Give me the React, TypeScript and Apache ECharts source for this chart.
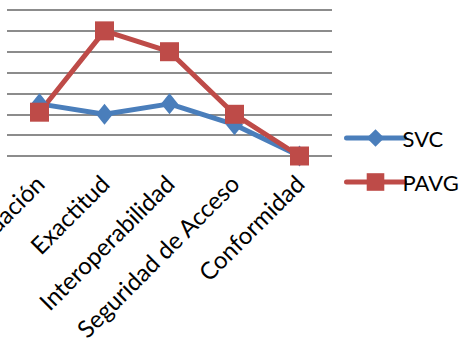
import React, { useEffect, useRef } from "react";
import * as echarts from "echarts";

const categories = ["Adecuación", "Exactitud", "Interoperabilidad", "Seguridad de Acceso", "Conformidad"];
const svcValues = [2.5, 2, 2.5, 1.5, 0];
const pavgValues = [2.1, 6, 5, 2, 0];

export default function App() {
  const ref = useRef<HTMLDivElement>(null);
  useEffect(() => {
    const chart = echarts.init(ref.current!, null, { renderer: "svg" });
    const font = "Lato, 'Open Sans', sans-serif";
    chart.setOption({
      animation: false,
      backgroundColor: "#ffffff",
      grid: { left: 7, right: 134, top: 10, bottom: 193, containLabel: false, outerBoundsMode: "none" },
      legend: {
        orient: "vertical",
        left: 339,
        top: 122,
        itemWidth: 58,
        itemHeight: 22,
        itemGap: 22,
        lineStyle: { width: 5, cap: "round" },
        textStyle: { fontFamily: font, fontSize: 22, color: "#000", padding: [0, 0, 0, -7] },
        data: ["SVC", "PAVG"],
      },
      xAxis: {
        type: "category",
        data: categories,
        boundaryGap: true,
        axisLine: { show: false },
        axisTick: { show: false },
        axisLabel: {
          rotate: 45,
          interval: 0,
          margin: 23,
          fontFamily: font,
          fontSize: 24,
          color: "#000",
        },
      },
      yAxis: {
        type: "value",
        min: 0,
        max: 7,
        interval: 1,
        axisLine: { show: false },
        axisTick: { show: false },
        axisLabel: { show: false },
        splitLine: { lineStyle: { color: "#8c8c8c", width: 2 } },
      },
      series: [
        {
          name: "SVC",
          type: "line",
          data: svcValues,
          symbol: "diamond",
          symbolSize: [17, 21],
          lineStyle: { color: "#4a7ebb", width: 5 },
          itemStyle: { color: "#4a7ebb" },
        },
        {
          name: "PAVG",
          type: "line",
          data: pavgValues,
          symbol: "rect",
          symbolSize: 19,
          lineStyle: { color: "#be4b48", width: 5 },
          itemStyle: { color: "#be4b48" },
        },
      ],
    });
    return () => chart.dispose();
  }, []);
  return <div ref={ref} style={{ position: "fixed", left: 0, top: 0, width: 466, height: 349 }} />;
}
